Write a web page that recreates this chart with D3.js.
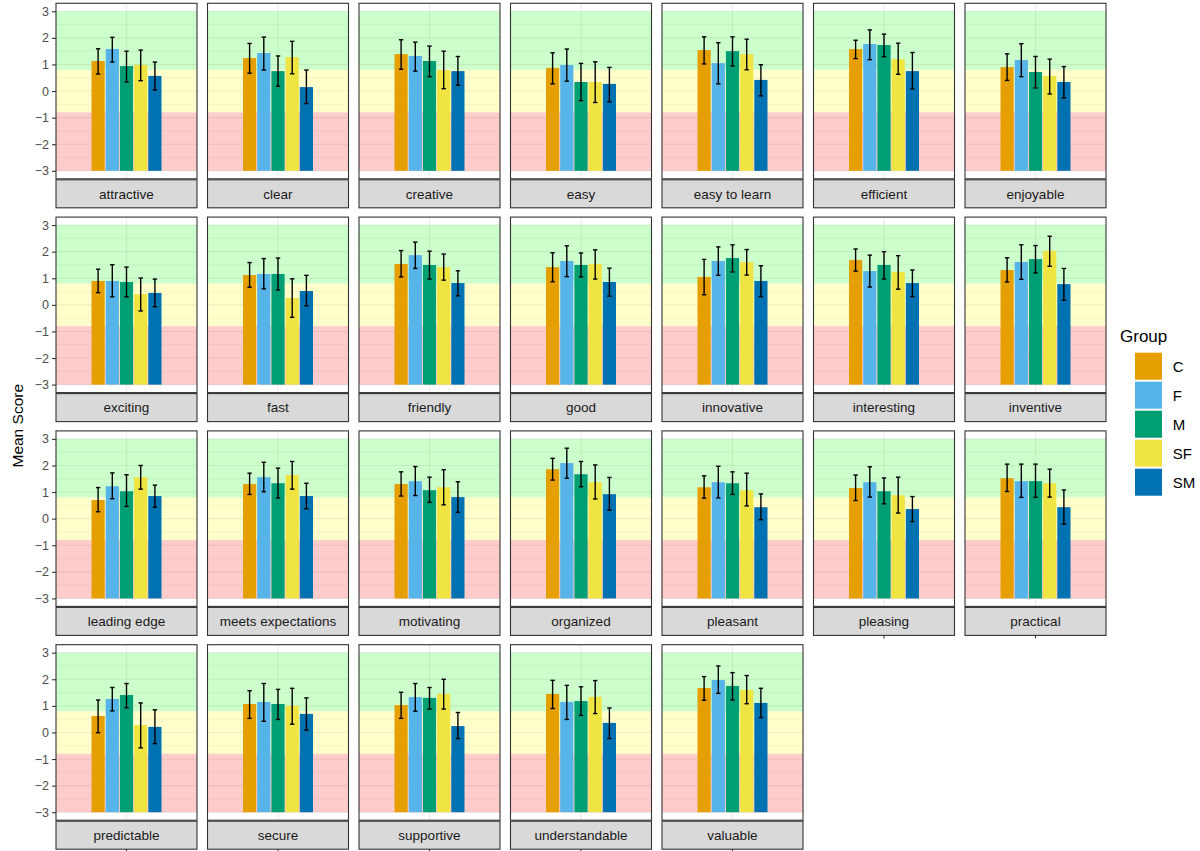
<!DOCTYPE html>
<html>
<head>
<meta charset="utf-8">
<script src="https://cdn.jsdelivr.net/npm/d3@7"></script>
<style>
  body { margin: 0; background: #fff; }
  svg { font-family: "Liberation Sans", Arial, sans-serif; }
</style>
</head>
<body>
<svg id="chart" width="1200" height="851"></svg>
<script>
const categories = ["attractive", "clear", "creative", "easy", "easy to learn", "efficient", "enjoyable",
  "exciting", "fast", "friendly", "good", "innovative", "interesting", "inventive",
  "leading edge", "meets expectations", "motivating", "organized", "pleasant", "pleasing", "practical",
  "predictable", "secure", "supportive", "understandable", "valuable"];

const groups = ["C", "F", "M", "SF", "SM"];
const groupColors = ["#E69F00", "#56B4E9", "#009E73", "#F0E442", "#0072B2"];

// mean score per category, in group order C, F, M, SF, SM
const means = [
  [1.13, 1.58, 0.94, 0.98, 0.57],
  [1.24, 1.43, 0.75, 1.28, 0.15],
  [1.39, 1.32, 1.13, 0.79, 0.75],
  [0.87, 0.98, 0.34, 0.34, 0.27],
  [1.54, 1.05, 1.50, 1.39, 0.42],
  [1.58, 1.77, 1.73, 1.20, 0.75],
  [0.90, 1.17, 0.72, 0.57, 0.34],
  [0.90, 0.90, 0.86, 0.41, 0.45],
  [1.12, 1.16, 1.16, 0.26, 0.52],
  [1.54, 1.87, 1.50, 1.42, 0.82],
  [1.42, 1.65, 1.50, 1.54, 0.86],
  [1.05, 1.65, 1.76, 1.61, 0.90],
  [1.69, 1.27, 1.50, 1.24, 0.82],
  [1.31, 1.61, 1.72, 2.03, 0.78],
  [0.70, 1.22, 1.03, 1.56, 0.85],
  [1.30, 1.56, 1.33, 1.64, 0.85],
  [1.30, 1.41, 1.07, 1.18, 0.81],
  [1.86, 2.09, 1.67, 1.37, 0.92],
  [1.18, 1.37, 1.33, 1.07, 0.43],
  [1.15, 1.37, 1.03, 0.88, 0.36],
  [1.52, 1.41, 1.41, 1.33, 0.43],
  [0.62, 1.26, 1.41, 0.28, 0.21],
  [1.07, 1.15, 1.07, 1.00, 0.70],
  [1.03, 1.33, 1.30, 1.45, 0.24],
  [1.45, 1.15, 1.18, 1.34, 0.36],
  [1.67, 1.97, 1.75, 1.60, 1.11]
];

// lower end of the error bars
const lower = [
  [0.64, 1.09, 0.34, 0.39, 0.04],
  [0.67, 0.79, 0.18, 0.65, -0.47],
  [0.82, 0.75, 0.54, 0.09, 0.22],
  [0.27, 0.37, -0.36, -0.43, -0.41],
  [1.02, 0.27, 0.94, 0.80, -0.18],
  [1.22, 1.18, 1.29, 0.63, 0.08],
  [0.40, 0.54, 0.12, -0.11, -0.26],
  [0.46, 0.30, 0.30, -0.23, -0.07],
  [0.66, 0.60, 0.56, -0.47, -0.04],
  [1.05, 1.37, 0.97, 0.93, 0.34],
  [0.87, 1.06, 1.05, 0.97, 0.33],
  [0.38, 1.11, 1.24, 1.12, 0.31],
  [1.27, 0.67, 0.97, 0.59, 0.31],
  [0.86, 0.96, 1.20, 1.45, 0.17],
  [0.26, 0.75, 0.46, 1.11, 0.43],
  [0.91, 1.01, 0.78, 1.11, 0.37],
  [0.85, 0.87, 0.61, 0.52, 0.24],
  [1.45, 1.52, 1.20, 0.74, 0.32],
  [0.77, 0.78, 0.91, 0.48, -0.04],
  [0.68, 0.81, 0.56, 0.21, -0.11],
  [1.02, 0.80, 0.80, 0.81, -0.21],
  [-0.01, 0.81, 0.93, -0.58, -0.42],
  [0.53, 0.42, 0.49, 0.31, 0.09],
  [0.53, 0.80, 0.88, 0.88, -0.23],
  [0.90, 0.49, 0.64, 0.71, -0.23],
  [1.21, 1.47, 1.22, 1.08, 0.56]
];

// upper end of the error bars
const upper = [
  [1.59, 2.02, 1.50, 1.54, 1.09],
  [1.79, 2.03, 1.32, 1.87, 0.79],
  [1.93, 1.84, 1.69, 1.50, 1.30],
  [1.44, 1.58, 1.04, 1.10, 0.89],
  [2.04, 1.82, 2.04, 1.95, 0.99],
  [1.91, 2.30, 2.14, 1.80, 1.45],
  [1.40, 1.78, 1.30, 1.20, 0.92],
  [1.34, 1.51, 1.42, 1.01, 0.97],
  [1.59, 1.74, 1.76, 0.98, 1.11],
  [2.04, 2.36, 2.02, 1.91, 1.28],
  [1.96, 2.22, 1.95, 2.07, 1.38],
  [1.71, 2.18, 2.26, 2.08, 1.47],
  [2.10, 1.87, 2.00, 1.85, 1.31],
  [1.77, 2.26, 2.23, 2.58, 1.37],
  [1.17, 1.72, 1.65, 2.00, 1.26],
  [1.71, 2.12, 1.90, 2.15, 1.33],
  [1.76, 1.96, 1.56, 1.84, 1.39],
  [2.27, 2.65, 2.15, 2.02, 1.55],
  [1.61, 1.97, 1.76, 1.71, 0.93],
  [1.64, 1.95, 1.53, 1.56, 0.83],
  [2.05, 2.05, 2.05, 1.86, 1.08],
  [1.22, 1.69, 1.84, 1.11, 0.85],
  [1.57, 1.84, 1.62, 1.66, 1.30],
  [1.51, 1.84, 1.69, 2.00, 0.75],
  [1.96, 1.77, 1.72, 1.95, 0.92],
  [2.10, 2.50, 2.25, 2.14, 1.66]
];

// rating zones drawn behind the bars
const zoneBounds = [[0.8, 3], [-0.8, 0.8], [-3, -0.8]];
const zoneColors = ["#00ff00", "#ffff00", "#ff0000"];
const yTicks = [-3, -2, -1, 0, 1, 2, 3];
const yMinor = [-2.5, -1.5, -0.5, 0.5, 1.5, 2.5];

const svg = d3.select("#chart");

const ncol = 7;
const left = 56, top0 = 3.3;
const pw = 141, ph = 175.5, stripH = 28;
const colStep = 151.5, rowStep = 213.8;
const nrow = Math.ceil(categories.length / ncol);

const y = d3.scaleLinear().domain([-3.3, 3.3]).range([ph, 0]);
// single discrete x position, bars dodged around the centre
const x = d3.scaleBand().domain(["1"]).range([0, pw]);
const dodge = d3.scaleBand().domain(groups)
  .range([pw / 2 - 35, pw / 2 + 35]).paddingInner(0.07);

categories.forEach((cat, i) => {
  const col = i % ncol, row = Math.floor(i / ncol);
  const g = svg.append("g")
    .attr("transform", `translate(${left + col * colStep},${top0 + row * rowStep})`);

  g.append("rect").attr("width", pw).attr("height", ph).attr("fill", "#fff");

  g.selectAll(".minor").data(yMinor).join("line")
    .attr("x1", 0).attr("x2", pw)
    .attr("y1", d => y(d)).attr("y2", d => y(d))
    .attr("stroke", "#ebebeb").attr("stroke-width", 0.6);
  g.selectAll(".major").data(yTicks).join("line")
    .attr("x1", 0).attr("x2", pw)
    .attr("y1", d => y(d)).attr("y2", d => y(d))
    .attr("stroke", "#ebebeb").attr("stroke-width", 1.1);
  g.append("line")
    .attr("x1", pw / 2).attr("x2", pw / 2).attr("y1", 0).attr("y2", ph)
    .attr("stroke", "#ebebeb").attr("stroke-width", 1.1);

  g.selectAll(".zone").data(zoneBounds).join("rect")
    .attr("x", 0).attr("width", pw)
    .attr("y", d => y(d[1])).attr("height", d => y(d[0]) - y(d[1]))
    .attr("fill", (d, k) => zoneColors[k]).attr("fill-opacity", 0.2);

  const vals = groups.map((gr, k) => ({ gr, k, m: means[i][k], lo: lower[i][k], hi: upper[i][k] }));

  g.selectAll(".bar").data(vals).join("rect")
    .attr("x", d => dodge(d.gr)).attr("width", dodge.bandwidth())
    .attr("y", d => y(d.m)).attr("height", d => y(-3) - y(d.m))
    .attr("fill", d => groupColors[d.k]);

  const eb = g.selectAll(".eb").data(vals).join("g")
    .attr("transform", d => `translate(${dodge(d.gr) + dodge.bandwidth() / 2},0)`)
    .attr("stroke", "#000").attr("stroke-width", 1.4);
  eb.append("line").attr("y1", d => y(d.lo)).attr("y2", d => y(d.hi));
  eb.append("line").attr("x1", -2.2).attr("x2", 2.2).attr("y1", d => y(d.lo)).attr("y2", d => y(d.lo));
  eb.append("line").attr("x1", -2.2).attr("x2", 2.2).attr("y1", d => y(d.hi)).attr("y2", d => y(d.hi));

  g.append("rect").attr("width", pw).attr("height", ph)
    .attr("fill", "none").attr("stroke", "#333").attr("stroke-width", 1.1);

  // strip
  g.append("rect").attr("y", ph + 1).attr("width", pw).attr("height", stripH)
    .attr("fill", "#d9d9d9").attr("stroke", "#333").attr("stroke-width", 1.1);
  g.append("text").attr("x", pw / 2).attr("y", ph + 1 + stripH / 2)
    .attr("dy", "0.35em").attr("text-anchor", "middle")
    .attr("font-size", 13.5).attr("fill", "#1a1a1a").text(cat);

  if (col === 0) {
    const ax = g.append("g").call(d3.axisLeft(y).tickValues(yTicks)
      .tickFormat(d => d < 0 ? "\u2212" + Math.abs(d) : d).tickSize(4).tickPadding(3));
    ax.select(".domain").remove();
    ax.selectAll(".tick line").attr("stroke", "#333").attr("stroke-width", 1.1);
    ax.selectAll("text").attr("font-size", 12.5).attr("fill", "#4d4d4d")
      .attr("font-family", "Liberation Sans, Arial, sans-serif");
  }

  // bottom-most panel in each column gets the x tick
  if (i + ncol >= categories.length) {
    const bx = g.append("g").attr("transform", `translate(0,${ph + 1 + stripH})`)
      .call(d3.axisBottom(x).tickFormat("").tickSize(3));
    bx.select(".domain").remove();
    bx.selectAll(".tick line").attr("stroke", "#333").attr("stroke-width", 1.1);
  }
});

// y axis title
const midY = (top0 + (nrow - 1) * rowStep + ph + stripH + top0) / 2;
svg.append("text")
  .attr("transform", `translate(23,${midY}) rotate(-90)`)
  .attr("text-anchor", "middle").attr("font-size", 15.5).attr("fill", "#000")
  .text("Mean Score");

// legend
const legend = svg.append("g").attr("transform", "translate(1120,0)");
legend.append("text").attr("x", 0).attr("y", 342)
  .attr("font-size", 17).attr("fill", "#000").text("Group");
groups.forEach((gr, k) => {
  legend.append("rect").attr("x", 15).attr("y", 352.7 + k * 29)
    .attr("width", 27).attr("height", 27).attr("fill", groupColors[k]);
  legend.append("text").attr("x", 52.7).attr("y", 352.7 + k * 29 + 13.5)
    .attr("dy", "0.36em").attr("font-size", 15).attr("fill", "#000").text(gr);
});
</script>
</body>
</html>
